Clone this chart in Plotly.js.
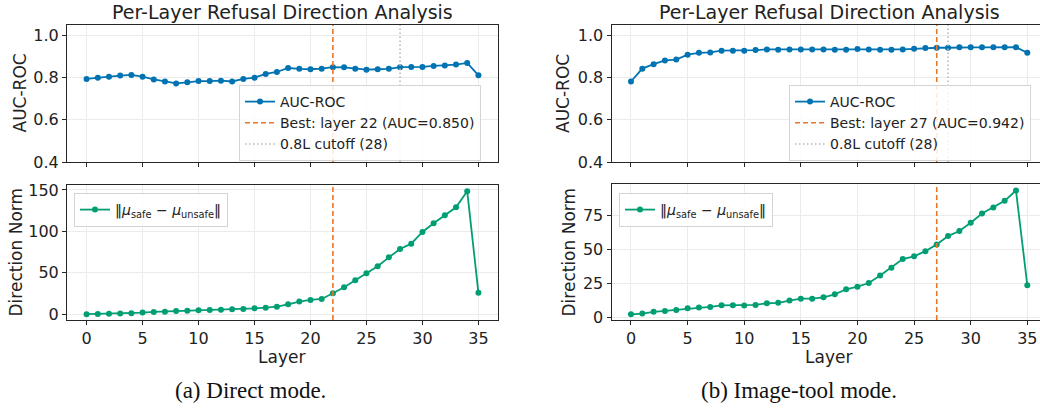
<!DOCTYPE html>
<html>
<head>
<meta charset="utf-8">
<script src="https://cdn.plot.ly/plotly-3.0.1.min.js"></script>
<style>
  html, body { margin: 0; padding: 0; background: #fff; }
  #chart { width: 1040px; height: 417px; }
</style>
</head>
<body>
<div id="chart"></div>
<script>
// ---------- data ----------
const layers = [0,1,2,3,4,5,6,7,8,9,10,11,12,13,14,15,16,17,18,19,20,21,22,23,24,25,26,27,28,29,30,31,32,33,34,35];

// (a) Direct mode
const aucDirect = [0.794,0.800,0.805,0.810,0.813,0.805,0.792,0.782,0.773,0.778,0.784,0.784,0.786,0.782,0.794,0.800,0.818,0.827,0.846,0.842,0.840,0.843,0.850,0.849,0.843,0.838,0.840,0.842,0.850,0.851,0.851,0.856,0.858,0.862,0.870,0.811];
const normDirect = [0.1,0.3,0.5,0.8,1.2,2.0,2.8,3.2,4.0,4.4,4.8,5.2,5.6,6.0,6.4,7.2,8.0,9.2,12.0,15.3,17.3,18.5,25.3,32.6,41.0,49.4,57.9,68.7,78.8,85.2,99.3,109.8,119.4,129.1,148.5,26.1];
const bestLayerDirect = 22;
const bestAucDirect = 0.850;

// (b) Image-tool mode
const aucImage = [0.782,0.843,0.864,0.882,0.886,0.909,0.918,0.920,0.928,0.928,0.928,0.931,0.934,0.933,0.934,0.934,0.934,0.934,0.933,0.933,0.936,0.934,0.933,0.933,0.934,0.937,0.941,0.942,0.942,0.944,0.944,0.944,0.944,0.944,0.945,0.918];
const normImage = [2.4,2.9,4.2,4.9,5.6,6.8,7.3,7.8,9.0,9.0,8.8,9.3,10.5,10.8,12.5,13.9,13.9,14.9,17.1,20.8,22.7,25.4,31.0,36.7,43.0,45.0,48.8,53.8,59.9,63.6,69.7,76.5,80.9,85.8,93.4,23.7];
const bestLayerImage = 27;
const bestAucImage = 0.942;

const cutoffLayer = 28;

const chartTitle = "Per-Layer Refusal Direction Analysis";
const captions = ["(a) Direct mode.", "(b) Image-tool mode."];
const aucTicks = [0.4, 0.6, 0.8, 1.0];
const normTicksDirect = [0, 50, 100, 150];
const normTicksImage = [0, 25, 50, 75];
const layerTicks = [0, 5, 10, 15, 20, 25, 30, 35];

// ---------- styling ----------
const W = 1040, H = 417;
const FONT = "DejaVu Sans";
const BLUE = "#0173B2";
const GREEN = "#029E73";
const ORANGE = "#E8772E";
const GREY = "#b8b8b8";
const GRID = "#ebebeb";
const SPINE = "#262626";

const px = v => v / W;
const py = v => 1 - v / H;

const aucRange = [0.4, 1.05];
const normRangeDirect = [-6.9, 156];
const normRangeImage = [-1.8, 98.2];
const xRangeLeft = [-1.75, 36.75];
const xRangeRight = [-1.72, 36.12];

const normLabel = "‖<i>μ</i><sub>safe</sub> − <i>μ</i><sub>unsafe</sub>‖";

function bestName(l, a) { return "Best: layer " + l + " (AUC=" + a.toFixed(3) + ")"; }

const traces = [];
function panel(ax, auc, norm, bestL, bestA, normRange, lgTop, lgBot) {
  const xa = ax[0], ya = ax[1], xb = ax[2], yb = ax[3];
  traces.push({x: layers, y: auc, xaxis: xa, yaxis: ya, mode: "lines+markers", name: "AUC-ROC",
    line: {color: BLUE, width: 1.8}, marker: {color: BLUE, size: 6}, legend: lgTop});
  traces.push({x: [bestL, bestL], y: aucRange, xaxis: xa, yaxis: ya, mode: "lines", name: bestName(bestL, bestA),
    line: {color: ORANGE, width: 1.6, dash: "5px,3px"}, legend: lgTop});
  traces.push({x: [cutoffLayer, cutoffLayer], y: aucRange, xaxis: xa, yaxis: ya, mode: "lines", name: "0.8L cutoff (" + cutoffLayer + ")",
    line: {color: GREY, width: 1.6, dash: "1.5px,2.5px"}, legend: lgTop});
  traces.push({x: layers, y: norm, xaxis: xb, yaxis: yb, mode: "lines+markers", name: normLabel,
    line: {color: GREEN, width: 1.8}, marker: {color: GREEN, size: 6}, legend: lgBot});
  traces.push({x: [bestL, bestL], y: normRange, xaxis: xb, yaxis: yb, mode: "lines", showlegend: false,
    line: {color: ORANGE, width: 1.6, dash: "5px,3px"}, legend: lgBot});
}
panel(["x", "y", "x2", "y2"], aucDirect, normDirect, bestLayerDirect, bestAucDirect, normRangeDirect, "legend", "legend2");
panel(["x3", "y3", "x4", "y4"], aucImage, normImage, bestLayerImage, bestAucImage, normRangeImage, "legend3", "legend4");

const tickFont = {family: FONT, size: 16, color: "#222"};
function xAxis(domain, range, anchor, labels) {
  return {domain: domain, range: range, anchor: anchor, tickvals: layerTicks, showticklabels: labels,
    ticks: "outside", ticklen: 4, tickwidth: 1, tickcolor: SPINE, tickfont: tickFont,
    showgrid: true, gridcolor: GRID, gridwidth: 1, zeroline: false,
    showline: true, linecolor: SPINE, linewidth: 1, mirror: true};
}
function yAxis(domain, range, anchor, tickvals, fmt, mirror) {
  return {domain: domain, range: range, anchor: anchor, tickvals: tickvals, tickformat: fmt,
    ticks: "outside", ticklen: 4, tickwidth: 1, tickcolor: SPINE, tickfont: tickFont,
    showgrid: true, gridcolor: GRID, gridwidth: 1, zeroline: false,
    showline: true, linecolor: SPINE, linewidth: 1, mirror: mirror};
}

const leftX = [px(67), px(498)];
const rightX = [px(611.5), 1];
const topY = [py(162), py(25)];
const botYL = [py(320), py(185)];
const botYR = [py(320), py(184)];

function legendAt(x, y) {
  return {x: px(x), y: py(y), xanchor: "left", yanchor: "top", xref: "paper", yref: "paper",
    bgcolor: "rgba(255,255,255,0.85)", bordercolor: "#d4d4d4", borderwidth: 1,
    font: {family: FONT, size: 14, color: "#222"}, itemwidth: 30, tracegroupgap: 0};
}

const ann = [];
function txt(t, x, y, size, extra) {
  ann.push(Object.assign({text: t, x: px(x), y: py(y), xref: "paper", yref: "paper", showarrow: false,
    xanchor: "center", yanchor: "middle", font: {family: FONT, size: size, color: "#222"}}, extra || {}));
}
txt(chartTitle, 282, 12, 19);
txt(chartTitle, 829, 12, 19);
txt("AUC-ROC", 20, 93.5, 17, {textangle: -90});
txt("Direction Norm", 15, 252.5, 17, {textangle: -90});
txt("AUC-ROC", 563.5, 93.5, 17, {textangle: -90});
txt("Direction Norm", 568.5, 252, 17, {textangle: -90});
txt("Layer", 281, 357, 17);
txt("Layer", 828, 357, 17);
txt(captions[0], 250, 390, 23, {font: {family: "Liberation Serif", size: 23, color: "#111"}});
txt(captions[1], 799, 390, 23, {font: {family: "Liberation Serif", size: 23, color: "#111"}});

const layout = {
  width: W, height: H, margin: {l: 0, r: 0, t: 0, b: 0},
  paper_bgcolor: "#fff", plot_bgcolor: "#fff",
  font: {family: FONT, size: 14, color: "#222"},
  xaxis: xAxis(leftX, xRangeLeft, "y", false),
  yaxis: yAxis(topY, aucRange, "x", aucTicks, ".1f", true),
  xaxis2: xAxis(leftX, xRangeLeft, "y2", true),
  yaxis2: yAxis(botYL, normRangeDirect, "x2", normTicksDirect, "", true),
  xaxis3: xAxis(rightX, xRangeRight, "y3", false),
  yaxis3: yAxis(topY, aucRange, "x3", aucTicks, ".1f", false),
  xaxis4: xAxis(rightX, xRangeRight, "y4", true),
  yaxis4: yAxis(botYR, normRangeImage, "x4", normTicksImage, "", false),
  legend: legendAt(239, 85),
  legend2: legendAt(74, 193),
  legend3: legendAt(789, 85),
  legend4: legendAt(619, 193),
  annotations: ann,
  showlegend: true
};

Plotly.newPlot("chart", traces, layout, {staticPlot: true, displayModeBar: false});
</script>
</body>
</html>
